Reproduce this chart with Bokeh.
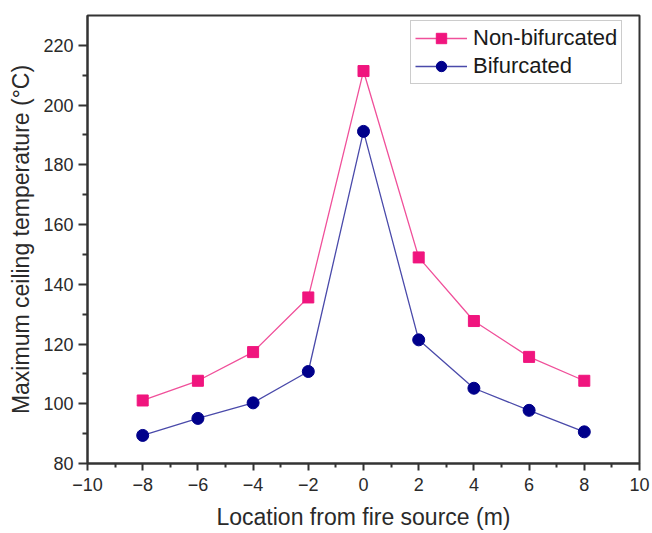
from bokeh.plotting import figure
from bokeh.models import FixedTicker
from bokeh.embed import file_html
from bokeh.resources import INLINE

location = [-8, -6, -4, -2, 0, 2, 4, 6, 8]
non_bifurcated = [101.1, 107.7, 117.3, 135.6, 211.4, 149.0, 127.7, 115.7, 107.7]
bifurcated = [89.4, 95.1, 100.3, 110.8, 191.2, 121.4, 105.2, 97.8, 90.6]
x_ticks = [-10, -8, -6, -4, -2, 0, 2, 4, 6, 8, 10]
y_ticks = [80, 100, 120, 140, 160, 180, 200, 220]

FONT = "Liberation Sans"
DARK = "#2a2a2a"

p = figure(width=652, height=533, x_range=(-10, 10), y_range=(80, 230),
           output_backend="svg", toolbar_location=None,
           min_border_left=87, min_border_right=13, min_border_top=15, min_border_bottom=70)
p.grid.visible = False
p.background_fill_color = "white"
p.border_fill_color = "white"
p.outline_line_color = "#333333"
p.outline_line_width = 2

p.line(location, non_bifurcated, line_color="#F0509A", line_width=1.3, legend_label="Non-bifurcated")
p.scatter(location, non_bifurcated, marker="square", size=11, fill_color="#F0157E",
          line_color="#F0157E", legend_label="Non-bifurcated")
p.line(location, bifurcated, line_color="#4A4AAA", line_width=1.3, legend_label="Bifurcated")
p.scatter(location, bifurcated, marker="circle", size=12, fill_color="#00008B",
          line_color="#00008B", legend_label="Bifurcated")

for ax in (p.xaxis[0], p.yaxis[0]):
    ax.axis_line_color = "#333333"
    ax.axis_line_width = 2
    ax.major_tick_line_color = "#333333"
    ax.major_tick_line_width = 2
    ax.minor_tick_line_color = "#333333"
    ax.minor_tick_line_width = 2
    ax.major_tick_in = 0
    ax.minor_tick_in = 0
    ax.major_label_text_font = FONT
    ax.major_label_text_font_size = "18px"
    ax.major_label_text_color = DARK
    ax.axis_label_text_font = FONT
    ax.axis_label_text_font_size = "23px"
    ax.axis_label_text_font_style = "normal"
    ax.axis_label_text_color = DARK

p.xaxis.major_tick_out = 7
p.xaxis.minor_tick_out = 4
p.yaxis.major_tick_out = 9
p.yaxis.minor_tick_out = 5

p.xaxis.ticker = FixedTicker(ticks=x_ticks, minor_ticks=[-9, -7, -5, -3, -1, 1, 3, 5, 7, 9])
p.yaxis.ticker = FixedTicker(ticks=y_ticks, minor_ticks=[90, 110, 130, 150, 170, 190, 210])
p.xaxis.major_label_overrides = {t: (str(t).replace("-", "\u2212")) for t in x_ticks}
p.xaxis.major_label_standoff = 7
p.yaxis.major_label_standoff = 5
p.xaxis.axis_label = "Location from fire source (m)"
p.yaxis.axis_label = "Maximum ceiling temperature (\u00b0C)"
p.xaxis.axis_label_standoff = 10
p.yaxis.axis_label_standoff = 6

leg = p.legend[0]
leg.location = (323, 379)
leg.label_text_font = FONT
leg.label_text_font_size = "22px"
leg.label_text_color = "#1a1a1a"
leg.glyph_width = 52
leg.glyph_height = 26
leg.label_height = 26
leg.label_standoff = 6
leg.spacing = 2
leg.padding = 4
leg.margin = 0
leg.border_line_color = "#999999"
leg.border_line_width = 1
leg.background_fill_alpha = 1

open("out.html", "w").write(file_html(p, INLINE))
